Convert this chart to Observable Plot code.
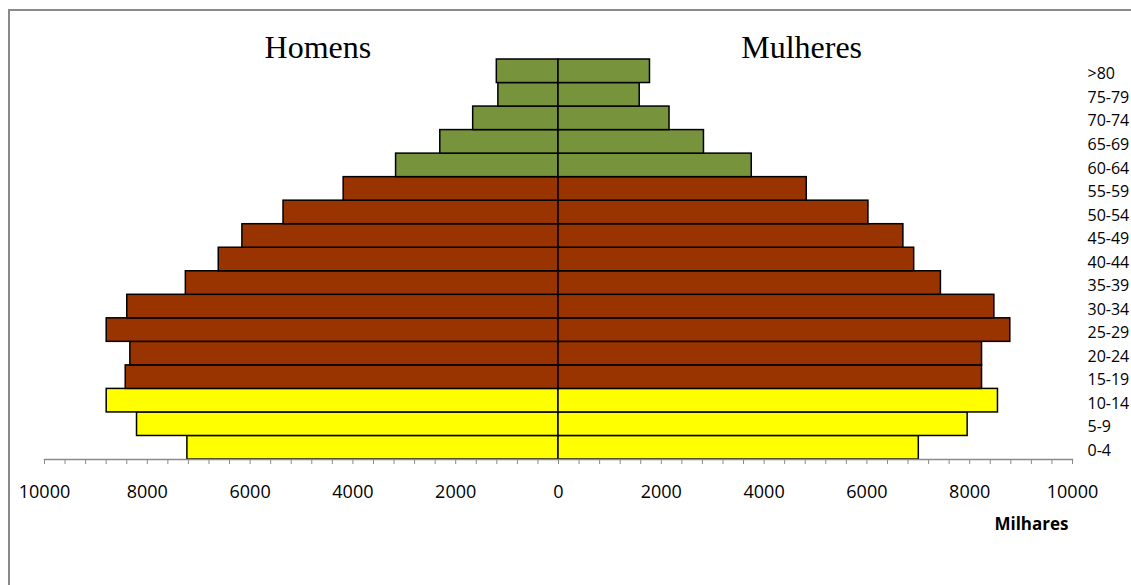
<!DOCTYPE html>
<html>
<head>
<meta charset="utf-8">
<script src="https://cdn.jsdelivr.net/npm/d3@7"></script>
<script src="https://cdn.jsdelivr.net/npm/@observablehq/plot@0.6"></script>
<style>
  html, body { margin: 0; padding: 0; background: #fff; }
  #wrap { position: relative; width: 1131px; height: 585px; overflow: hidden; }
  #border { position: absolute; left: 8px; top: 9px; width: 1200px; height: 700px;
            border-left: 2px solid #8a8a8a; border-top: 2px solid #8a8a8a; }
  #chart { position: absolute; left: 0; top: 0; }
</style>
</head>
<body>
<div id="wrap"><div id="border"></div><div id="chart"></div></div>
<script>
const ages = ["0-4","5-9","10-14","15-19","20-24","25-29","30-34","35-39","40-44","45-49","50-54","55-59","60-64","65-69","70-74","75-79",">80"];
const homens = [7220, 8200, 8790, 8420, 8330, 8790, 8390, 7250, 6610, 6150, 5350, 4180, 3160, 2300, 1660, 1170, 1200];
const mulheres = [7010, 7960, 8550, 8240, 8240, 8790, 8480, 7440, 6920, 6710, 6030, 4830, 3760, 2830, 2160, 1580, 1780];
const groups = ["0-14", "15-59", "60+"];
const groupColors = ["#ffff00", "#993300", "#77933c"];
const titles = ["Homens", "Mulheres"];
const titlePos = [-4680, 4730];
const majorTicks = d3.range(-10000, 10001, 2000);
const minorTicks = d3.range(-10000, 10001, 400);

function groupOf(i) { return i < 3 ? "0-14" : i < 12 ? "15-59" : "60+"; }

const rows = [];
ages.forEach((a, i) => {
  rows.push({age: a, sexo: "Homens", x1: 0, x2: -homens[i], group: groupOf(i)});
  rows.push({age: a, sexo: "Mulheres", x1: 0, x2: mulheres[i], group: groupOf(i)});
});

const chart = Plot.plot({
  width: 1131,
  height: 585,
  marginLeft: 44,
  marginRight: 59,
  marginTop: 59,
  marginBottom: 126,
  style: {fontFamily: "'Open Sans', sans-serif", color: "#000", background: "transparent"},
  x: {domain: [-10000, 10000]},
  y: {domain: ages.slice().reverse(), padding: 0, round: false},
  color: {domain: groups, range: groupColors},
  marks: [
    Plot.barX(rows, {y: "age", x1: "x1", x2: "x2", fill: "group", stroke: "#000", strokeWidth: 1.5}),
    Plot.frame({anchor: "bottom", stroke: "#8a8a8a", strokeWidth: 1.5}),
    Plot.axisX({ticks: minorTicks, tickSize: 5, stroke: "#8a8a8a", text: null, label: null}),
    Plot.axisX({ticks: majorTicks, tickSize: 0, tickPadding: 26, fontSize: 18,
                tickFormat: d => String(Math.abs(d)), label: null}),
    Plot.axisY({anchor: "right", tickSize: 0, tickPadding: 15, fontSize: 16, dy: 3, label: null}),
    Plot.text(titles, {x: titlePos, text: d => d, frameAnchor: "top", lineAnchor: "bottom", dy: -2,
                       fontFamily: "'Liberation Serif', 'Times New Roman', serif", fontSize: 32}),
    Plot.text(["Milhares"], {frameAnchor: "bottom-right", textAnchor: "end", lineAnchor: "bottom",
                             dx: -4, dy: 70, fontWeight: "bold", fontSize: 17})
  ]
});
document.getElementById("chart").appendChild(chart);
</script>
</body>
</html>
